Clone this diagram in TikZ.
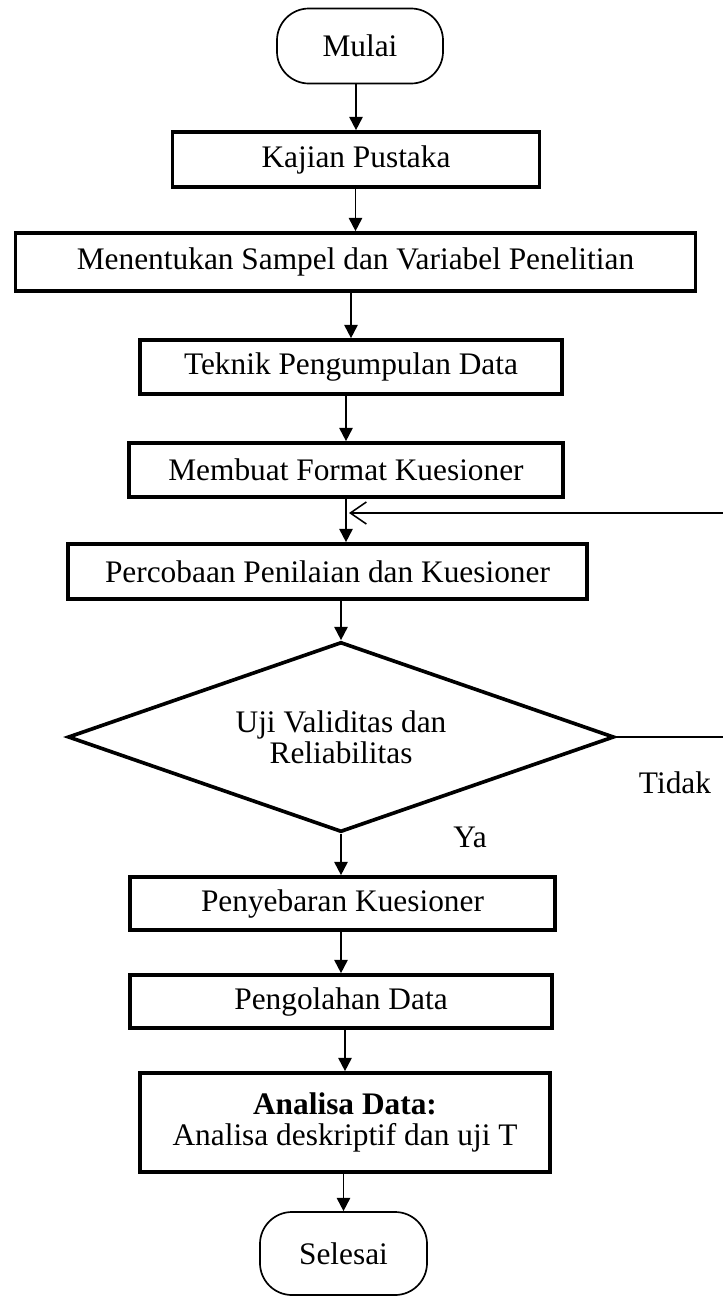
\documentclass[tikz,border=0pt]{standalone}
\usepackage{fontspec}
\setmainfont{Liberation Serif}
\usetikzlibrary{shapes.geometric,arrows.meta}
\begin{document}
\begin{tikzpicture}[x=0.025cm, y=-0.025cm,
    every node/.style={align=center, font=\fontsize{22.3}{22}\selectfont, inner sep=0pt},
    box/.style={rectangle, draw, line width=2.6pt},
    term/.style={rectangle, draw, rounded corners=0.8cm, line width=1.2pt},
    decision/.style={diamond, aspect=2.87, draw, line width=2.6pt},
    flow/.style={-{Triangle[length=0.33cm, width=0.33cm]}, line width=1.3pt}]
    \useasboundingbox (0,0) rectangle (723,1297);
    \clip (0,0) rectangle (723,1297);

    \node (mulai) [term, minimum width=4.15cm, minimum height=1.875cm] at (360,46) {Mulai};
    \node (kajian) [box, minimum width=9.175cm, minimum height=1.375cm] at (356,159.5) {Kajian Pustaka};
    \node (sampel) [box, minimum width=17cm, minimum height=1.45cm] at (355.5,262) {Menentukan Sampel dan Variabel Penelitian};
    \node (teknik) [box, minimum width=10.55cm, minimum height=1.35cm] at (351,367) {Teknik Pengumpulan Data};
    \node (format) [box, minimum width=10.85cm, minimum height=1.35cm] at (346,470) {Membuat Format Kuesioner};
    \node (coba) [box, minimum width=12.975cm, minimum height=1.375cm] at (327.5,571.5) {Percobaan Penilaian dan Kuesioner};
    \node (uji) [decision, minimum width=13.65cm, minimum height=4.75cm] at (341,737) {Uji Validitas dan\\Reliabilitas};
    \node (sebar) [box, minimum width=10.625cm, minimum height=1.325cm] at (342.5,903.5) {Penyebaran Kuesioner};
    \node (olah) [box, minimum width=10.55cm, minimum height=1.325cm] at (341,1001.5) {Pengolahan Data};
    \node (analisa) [box, minimum width=10.25cm, minimum height=2.475cm] at (345,1122.5) {\textbf{Analisa Data:}\\Analisa deskriptif dan uji T};
    \node (selesai) [term, minimum width=4.175cm, minimum height=2.075cm] at (343.5,1253.5) {Selesai};

    \node (tidak) at (675,783) {Tidak};
    \node (ya) at (470,837) {Ya};
    \coordinate (merge) at (349,513);

    \draw[flow] (mulai.south -| kajian.north) -- (kajian.north);
    \draw[flow] (kajian.south -| sampel.north) -- (sampel.north);
    \draw[flow] (sampel.south -| teknik.north) -- (teknik.north);
    \draw[flow] (teknik.south -| format.north) -- (format.north);
    \draw[flow] (format.south) -- (format.south |- coba.north);
    \draw[flow] (coba.south -| uji.north) -- (uji.north);
    \draw[flow] (uji.south) -- (uji.south |- sebar.north);
    \draw[flow] (sebar.south -| olah.north) -- (olah.north);
    \draw[flow] (olah.south -| analisa.north) -- (analisa.north);
    \draw[flow] (analisa.south -| selesai.north) -- (selesai.north);
    \draw[line width=1.1pt, -{Straight Barb[length=0.4cm, width=0.55cm]}] (uji.east) -- (760,737) -- (760,513) -- (merge);
\end{tikzpicture}
\end{document}
